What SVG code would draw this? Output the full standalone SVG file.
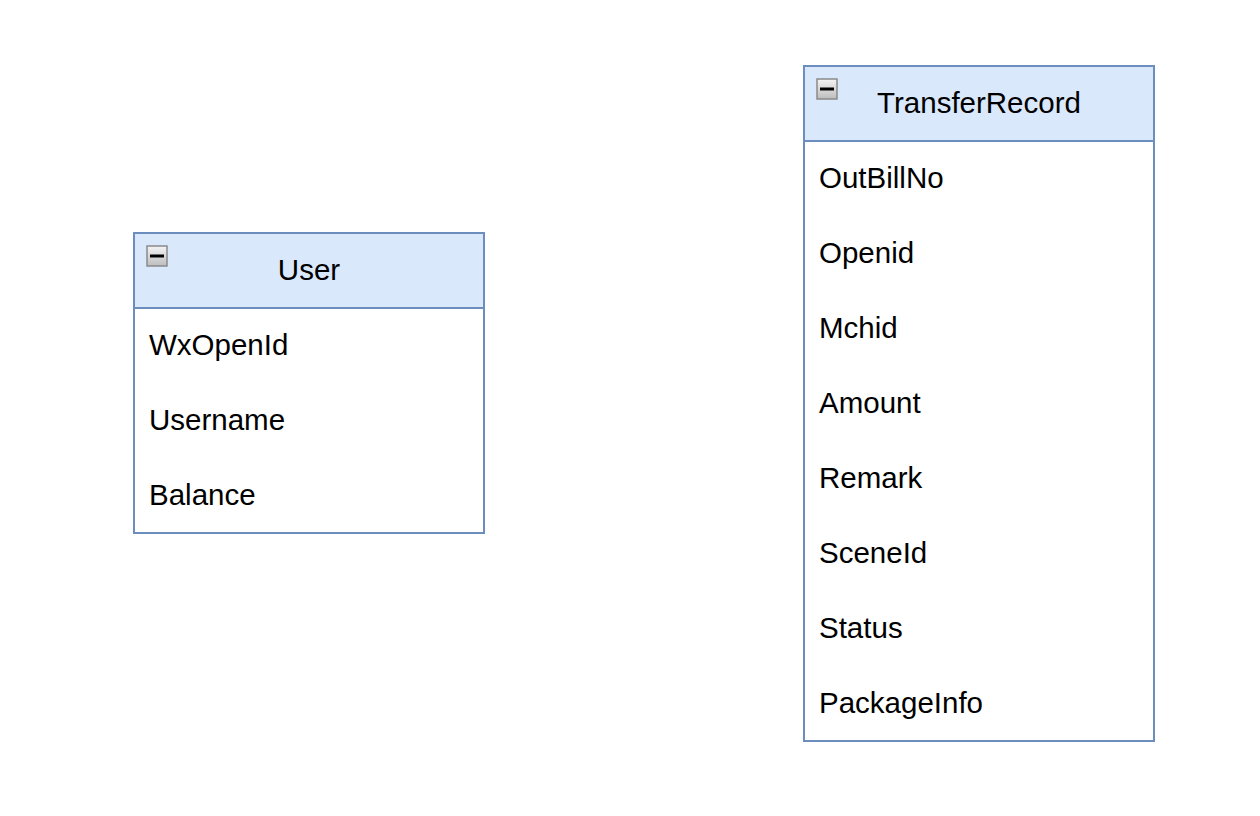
<svg xmlns="http://www.w3.org/2000/svg" width="1260" height="816" viewBox="0 0 1260 816">
<defs>
<linearGradient id="btn" x1="0" y1="0" x2="0" y2="1">
<stop offset="0" stop-color="#f4f4f4"/>
<stop offset="1" stop-color="#bdbdbd"/>
</linearGradient>
<style>
.hdr{fill:#dae8fc;stroke:#6c8ebf;stroke-width:2}
.body{fill:#ffffff;stroke:#6c8ebf;stroke-width:2}
.t{font-family:"Liberation Sans",Arial,sans-serif;font-size:29.5px;fill:#000000;dominant-baseline:central}
.c{text-anchor:middle}
.btn{fill:url(#btn);stroke:#8a8a8a;stroke-width:1.5}
.minus{fill:#000000}
</style>
</defs>
<rect width="1260" height="816" fill="#ffffff"/>
<g id="connectors"></g>
<g id="User">
<rect class="body" x="134" y="233" width="350" height="300"/>
<rect class="hdr" x="134" y="233" width="350" height="75"/>
<rect class="btn" x="147" y="246" width="20" height="20"/>
<rect class="minus" x="150" y="254.5" width="14" height="3"/>
<text class="t c" x="309" y="269.5">User</text>
<text class="t" x="149" y="344.5">WxOpenId</text>
<text class="t" x="149" y="419.5">Username</text>
<text class="t" x="149" y="494.5">Balance</text>
</g>
<g id="TransferRecord">
<rect class="body" x="804" y="66" width="350" height="675"/>
<rect class="hdr" x="804" y="66" width="350" height="75"/>
<rect class="btn" x="817" y="79" width="20" height="20"/>
<rect class="minus" x="820" y="87.5" width="14" height="3"/>
<text class="t c" x="979" y="102.5">TransferRecord</text>
<text class="t" x="819" y="177.5">OutBillNo</text>
<text class="t" x="819" y="252.5">Openid</text>
<text class="t" x="819" y="327.5">Mchid</text>
<text class="t" x="819" y="402.5">Amount</text>
<text class="t" x="819" y="477.5">Remark</text>
<text class="t" x="819" y="552.5">SceneId</text>
<text class="t" x="819" y="627.5">Status</text>
<text class="t" x="819" y="702.5">PackageInfo</text>
</g>
</svg>
